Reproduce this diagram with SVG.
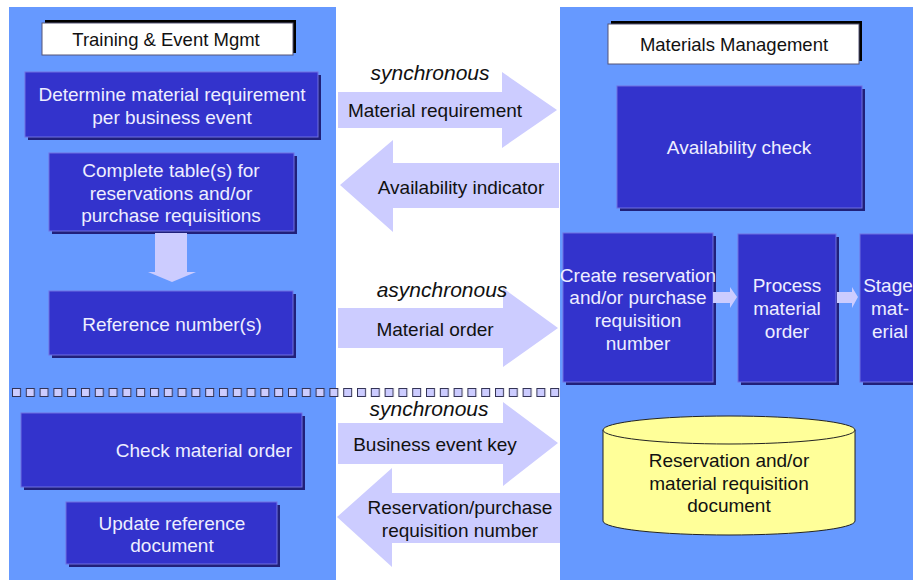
<svg xmlns="http://www.w3.org/2000/svg" width="913" height="580" viewBox="0 0 913 580">
<defs>
<style>
.panel{fill:#6699FF}
.box{fill:#3333CC;stroke:#7070E0;stroke-width:1}
.shd{fill:#20207A}
.title{fill:#FFFFFF;stroke:#555577;stroke-width:1}
.tshd{fill:#000000}
.arr{fill:#CCCCFF}
.wt{font-family:"Liberation Sans",Arial,sans-serif;font-size:19px;fill:#EEEEFF;text-anchor:middle}
.bt{font-family:"Liberation Sans",Arial,sans-serif;font-size:19px;fill:#111111;text-anchor:middle}
.tt{font-family:"Liberation Sans",Arial,sans-serif;font-size:18.5px;fill:#111111;text-anchor:middle}
.it{font-family:"Liberation Sans",Arial,sans-serif;font-size:21px;font-style:italic;fill:#111111;text-anchor:middle}
.cyl{fill:#FFFF99;stroke:#222222;stroke-width:1}
</style>
<pattern id="sq" x="12" y="388" width="13.8" height="10" patternUnits="userSpaceOnUse">
<rect x="0.5" y="0.5" width="8" height="8" fill="#CCCCFF" stroke="#333355" stroke-width="1"/>
</pattern>
</defs>
<rect width="913" height="580" fill="#FFFFFF"/>
<rect class="panel" x="9" y="7" width="327" height="573"/>
<rect class="panel" x="560" y="7" width="353" height="573"/>

<g id="title-tem">
<rect class="tshd" x="45" y="20" width="251" height="33"/>
<rect class="title" x="42" y="23" width="251" height="32"/>
<text class="tt" x="166" y="46">Training &amp; Event Mgmt</text>
</g>
<g id="title-mm">
<rect class="tshd" x="611" y="21" width="251" height="40"/>
<rect class="title" x="608" y="24" width="251" height="40"/>
<text class="tt" x="734" y="51">Materials Management</text>
</g>

<g id="determine">
<rect class="shd" x="28" y="75" width="293" height="65"/>
<rect class="box" x="25" y="72" width="293" height="65"/>
<text class="wt" x="172" y="101">Determine material requirement</text>
<text class="wt" x="172" y="124">per business event</text>
</g>
<g id="complete">
<rect class="shd" x="52" y="156" width="245" height="78"/>
<rect class="box" x="49" y="153" width="245" height="78"/>
<text class="wt" x="171" y="177">Complete table(s) for</text>
<text class="wt" x="171" y="200">reservations and/or</text>
<text class="wt" x="171" y="222">purchase requisitions</text>
</g>
<g id="refnum">
<rect class="shd" x="52" y="294" width="244" height="64"/>
<rect class="box" x="49" y="291" width="244" height="64"/>
<text class="wt" x="172" y="331">Reference number(s)</text>
</g>
<g id="checkorder">
<rect class="shd" x="24" y="416" width="281" height="74"/>
<rect class="box" x="21" y="413" width="281" height="74"/>
<text class="wt" x="204" y="457">Check material order</text>
</g>
<g id="updateref">
<rect class="shd" x="69" y="505" width="211" height="62"/>
<rect class="box" x="66" y="502" width="211" height="62"/>
<text class="wt" x="172" y="530">Update reference</text>
<text class="wt" x="172" y="552">document</text>
</g>

<g id="availcheck">
<rect class="shd" x="620" y="89" width="245" height="122"/>
<rect class="box" x="617" y="86" width="245" height="122"/>
<text class="wt" x="739" y="154">Availability check</text>
</g>
<g id="createres">
<rect class="shd" x="566" y="236" width="150" height="149"/>
<rect class="box" x="563" y="233" width="150" height="149"/>
<text class="wt" x="638" y="282">Create reservation</text>
<text class="wt" x="638" y="304">and/or purchase</text>
<text class="wt" x="638" y="327">requisition</text>
<text class="wt" x="638" y="350">number</text>
</g>
<g id="processorder">
<rect class="shd" x="741" y="237" width="98" height="148"/>
<rect class="box" x="738" y="234" width="98" height="148"/>
<text class="wt" x="787" y="292">Process</text>
<text class="wt" x="787" y="315">material</text>
<text class="wt" x="787" y="338">order</text>
</g>
<g id="stage">
<rect class="shd" x="863" y="237" width="60" height="148"/>
<rect class="box" x="860" y="234" width="60" height="148"/>
<text class="wt" x="888" y="292">Stage</text>
<text class="wt" x="890" y="315">mat-</text>
<text class="wt" x="890" y="338">erial</text>
</g>
<g id="resdoc">
<path class="cyl" d="M603,430 L603,521 A126,14 0 0 0 855,521 L855,430 Z"/>
<ellipse class="cyl" cx="729" cy="430" rx="126" ry="14"/>
<text class="bt" x="729" y="467">Reservation and/or</text>
<text class="bt" x="729" y="490">material requisition</text>
<text class="bt" x="729" y="512">document</text>
</g>

<g id="separator">
<rect x="12" y="388" width="552" height="10" fill="url(#sq)"/>
</g>

<g id="connectors">
<polygon class="arr" points="155,233 187,233 187,272 196,272 172,282 148,272 155,272"/>
<polygon class="arr" points="713,292 730,292 730,287 737,297 730,308 730,303 713,303"/>
<polygon class="arr" points="837,292 852,292 852,287 858,297 852,308 852,303 837,303"/>
<polygon class="arr" points="338,92 502,92 502,72 557,110 502,148 502,128 338,128"/>
<polygon class="arr" points="559,163 393,163 393,140 340,185 393,232 393,208 559,208"/>
<polygon class="arr" points="338,308 503,308 503,288 558,328 503,367 503,348 338,348"/>
<polygon class="arr" points="338,423 503,423 503,402 558,443 503,486 503,464 338,464"/>
<polygon class="arr" points="560,493 392,493 392,468 337,517 392,567 392,543 560,543"/>
<text class="it" x="430" y="80">synchronous</text>
<text class="bt" x="435" y="117">Material requirement</text>
<text class="bt" x="461" y="194">Availability indicator</text>
<text class="it" x="442" y="297">asynchronous</text>
<text class="bt" x="435" y="336">Material order</text>
<text class="it" x="429" y="416">synchronous</text>
<text class="bt" x="435" y="451">Business event key</text>
<text class="bt" x="460" y="514">Reservation/purchase</text>
<text class="bt" x="460" y="537">requisition number</text>
</g>
</svg>
